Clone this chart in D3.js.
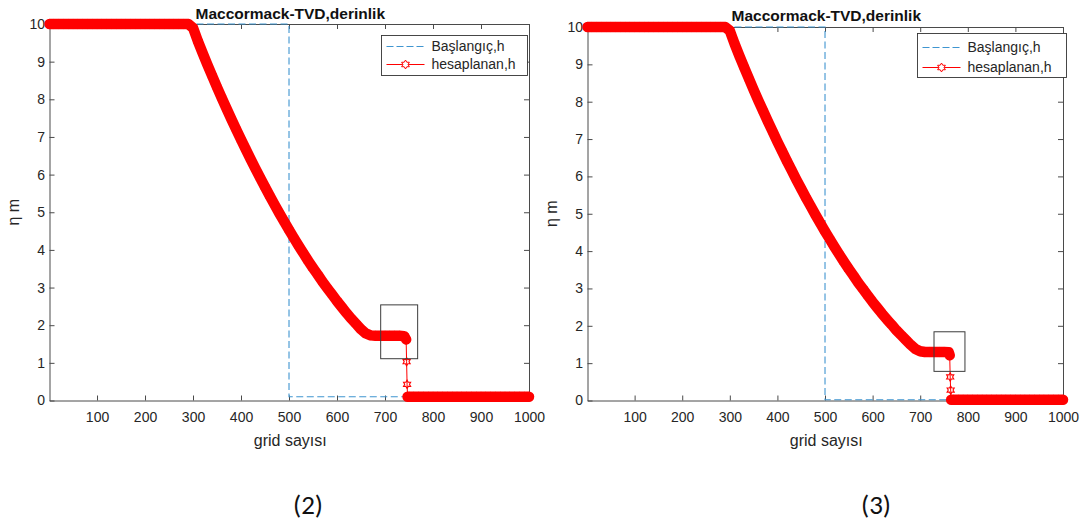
<!DOCTYPE html>
<html>
<head>
<meta charset="utf-8">
<script src="https://cdn.jsdelivr.net/npm/d3@7"></script>
<style>
  html, body { margin: 0; padding: 0; background: #fff; }
  svg { display: block; font-family: "Liberation Sans", Arial, sans-serif; }
</style>
</head>
<body>
<svg id="fig" width="1088" height="522"></svg>
<script>
// ---- Panel (2): computed depth along the grid ----
const gridX2 = [1,10,20,30,40,50,60,70,80,90,100,110,120,130,140,150,160,170,180,190,
  200,210,220,230,240,250,260,270,280,290,300,310,320,330,340,350,360,370,380,390,
  400,410,420,430,440,450,460,470,480,490,500,510,520,530,540,550,560,570,580,590,
  600,610,620,630,640,650,660,670,680,690,700,710,720,730,740,744,745,746,747,
  750,760,770,780,790,800,810,820,830,840,850,860,870,880,890,900,910,920,930,940,
  950,960,970,980,990,1000];
const depth2 = [10,10,10,10,10,10,10,10,10,10,10,10,10,10,10,10,10,10,10,10,
  10,10,10,10,10,10,10,10,10,10,9.90,9.55,9.23,8.92,8.62,8.32,8.03,7.75,7.47,7.20,
  6.93,6.67,6.41,6.16,5.91,5.67,5.43,5.20,4.97,4.75,4.53,4.32,4.11,3.91,3.71,3.52,3.34,3.15,2.98,2.81,
  2.64,2.48,2.32,2.17,2.03,1.89,1.78,1.73,1.72,1.72,1.72,1.72,1.72,1.72,1.71,1.62,1.03,0.43,0.10,
  0.10,0.10,0.10,0.10,0.10,0.10,0.10,0.10,0.10,0.10,0.10,0.10,0.10,0.10,0.10,0.10,0.10,0.10,0.10,0.10,
  0.10,0.10,0.10,0.10,0.10,0.10];
// initial (dam-break) profile
const initX2 = [1, 500, 500, 1000];
const initH2 = [10, 10, 0.10, 0.10];
// highlighted region: [x0, x1, h0, h1]
const boxRegion2 = [691, 768, 1.11, 2.54];

// ---- Panel (3): computed depth along the grid ----
const gridX3 = [1,10,20,30,40,50,60,70,80,90,100,110,120,130,140,150,160,170,180,190,
  200,210,220,230,240,250,260,270,280,290,300,310,320,330,340,350,360,370,380,390,
  400,410,420,430,440,450,460,470,480,490,500,510,520,530,540,550,560,570,580,590,
  600,610,620,630,640,650,660,670,680,690,700,710,720,730,740,750,760,762,763,764,765,
  770,780,790,800,810,820,830,840,850,860,870,880,890,900,910,920,930,940,
  950,960,970,980,990,1000];
const depth3 = [10,10,10,10,10,10,10,10,10,10,10,10,10,10,10,10,10,10,10,10,
  10,10,10,10,10,10,10,10,10,10,9.90,9.55,9.23,8.92,8.62,8.32,8.03,7.75,7.47,7.20,
  6.93,6.67,6.41,6.16,5.91,5.67,5.43,5.20,4.97,4.75,4.53,4.32,4.11,3.91,3.71,3.52,3.34,3.15,2.98,2.81,
  2.64,2.48,2.32,2.17,2.03,1.88,1.75,1.62,1.49,1.38,1.32,1.30,1.30,1.30,1.30,1.30,1.29,1.21,0.63,0.28,0.02,
  0.02,0.02,0.02,0.02,0.02,0.02,0.02,0.02,0.02,0.02,0.02,0.02,0.02,0.02,0.02,0.02,0.02,0.02,
  0.02,0.02,0.02,0.02,0.02,0.02];
const initX3 = [1, 500, 500, 1000];
const initH3 = [10, 10, 0.02, 0.02];
const boxRegion3 = [729, 794, 0.78, 1.84];

// ---- Shared labels and ticks ----
const xTickValues = [100, 200, 300, 400, 500, 600, 700, 800, 900, 1000];
const yTickValues = [0, 1, 2, 3, 4, 5, 6, 7, 8, 9, 10];
const xDomain = [1, 1000];
const yDomain = [0, 10];
const chartTitle = "Maccormack-TVD,derinlik";
const xAxisTitle = "grid sayısı";
const yAxisTitle = "η m";
const legendLabels = ["Başlangıç,h", "hesaplanan,h"];
const captions = ["(2)", "(3)"];

// ---- Layout of the two panels ----
const panels = [
  { gx: gridX2, gh: depth2, ix: initX2, ih: initH2, box: boxRegion2, caption: captions[0],
    left: 49.5, right: 529, top: 24, bottom: 400.5, titleY: 18.5, yLabX: 19,
    legend: { x: 381.5, y: 35.5, w: 146, h: 40, r1: 46.5, r2: 64.5 }, capX: 308 },
  { gx: gridX3, gh: depth3, ix: initX3, ih: initH3, box: boxRegion3, caption: captions[1],
    left: 587.5, right: 1063, top: 27, bottom: 400.5, titleY: 21, yLabX: 557,
    legend: { x: 917.5, y: 33.5, w: 149, h: 44, r1: 47.5, r2: 67.5 }, capX: 876 }
];

const RED = "#ff0000";
const BLUE = "#3f95d0";
const AXIS = "#4a4a4a";
const TEXT = "#262626";
const STEEP = 0.15;   // depth change per grid cell above which samples are not merged into a band

// six-pointed star marker
const hexagram = {
  draw(ctx, size) {
    const r = Math.sqrt(size);
    const ri = r / Math.sqrt(3);
    for (let k = 0; k < 12; k++) {
      const a = -Math.PI / 2 + k * Math.PI / 6;
      const rr = k % 2 ? ri : r;
      const px = rr * Math.cos(a), py = rr * Math.sin(a);
      if (k === 0) ctx.moveTo(px, py); else ctx.lineTo(px, py);
    }
    ctx.closePath();
  }
};

const svg = d3.select("#fig");

panels.forEach(p => {
  const x = d3.scaleLinear().domain(xDomain).range([p.left, p.right]);
  const y = d3.scaleLinear().domain(yDomain).range([p.bottom, p.top]);
  const g = svg.append("g");

  // axes box with inward ticks on all four sides
  const styleAxis = sel => {
    sel.selectAll("path.domain").attr("stroke", AXIS).attr("stroke-width", 1);
    sel.selectAll(".tick line").attr("stroke", AXIS).attr("stroke-width", 1);
    sel.selectAll("text").attr("fill", TEXT).style("font-size", "14px")
      .style("font-family", "'Liberation Sans', Arial, sans-serif");
  };
  const fmt = d3.format("d");
  g.append("g").attr("transform", `translate(0,${p.bottom})`)
    .call(d3.axisBottom(x).tickValues(xTickValues).tickFormat(fmt).tickSize(-5).tickSizeOuter(0).tickPadding(11.5))
    .call(styleAxis);
  g.append("g").attr("transform", `translate(0,${p.top})`)
    .call(d3.axisTop(x).tickValues(xTickValues).tickSize(-5).tickSizeOuter(0).tickFormat(""))
    .call(styleAxis);
  g.append("g").attr("transform", `translate(${p.left},0)`)
    .call(d3.axisLeft(y).tickValues(yTickValues).tickFormat(fmt).tickSize(-5).tickSizeOuter(0).tickPadding(4.5))
    .call(styleAxis);
  g.append("g").attr("transform", `translate(${p.right},0)`)
    .call(d3.axisRight(y).tickValues(yTickValues).tickSize(-5).tickSizeOuter(0).tickFormat(""))
    .call(styleAxis);

  // title and axis titles
  g.append("text").attr("x", (p.left + p.right) / 2 + 1).attr("y", p.titleY)
    .attr("text-anchor", "middle").attr("font-weight", "bold").attr("font-size", 15.5)
    .attr("fill", "#111").text(chartTitle);
  g.append("text").attr("x", (p.left + p.right) / 2 + 1).attr("y", 446)
    .attr("text-anchor", "middle").attr("font-size", 16).attr("fill", TEXT).text(xAxisTitle);
  g.append("text").attr("transform", `translate(${p.yLabX},${(p.top + p.bottom) / 2}) rotate(-90)`)
    .attr("text-anchor", "middle").attr("font-size", 16).attr("fill", TEXT).text(yAxisTitle);

  // initial condition (dashed)
  const initPts = p.ix.map((v, i) => ({ x: v, h: p.ih[i] }));
  const line = d3.line().x(d => x(d.x)).y(d => y(d.h));
  g.append("path").datum(initPts).attr("d", line)
    .attr("fill", "none").attr("stroke", BLUE).attr("stroke-width", 1.1)
    .attr("stroke-dasharray", "7,3.5");

  // computed depth: thin connecting line
  const pts = p.gx.map((v, i) => ({ x: v, h: p.gh[i] }));
  g.append("path").datum(pts).attr("d", line)
    .attr("fill", "none").attr("stroke", RED).attr("stroke-width", 1);

  // dense runs of overlapping stars form a solid band; split it at steep jumps
  const runs = [];
  let cur = [pts[0]];
  for (let i = 1; i < pts.length; i++) {
    const a = pts[i - 1], b = pts[i];
    if (Math.abs(b.h - a.h) / (b.x - a.x) > STEEP) { runs.push(cur); cur = [b]; }
    else cur.push(b);
  }
  runs.push(cur);
  g.append("g").selectAll("path").data(runs.filter(r => r.length > 1)).join("path")
    .attr("d", line).attr("fill", "none").attr("stroke", RED)
    .attr("stroke-width", 10.5).attr("stroke-linejoin", "round").attr("stroke-linecap", "round");

  // a star at every grid sample
  g.append("g").selectAll("path").data(pts).join("path")
    .attr("d", d3.symbol(hexagram, 17))
    .attr("transform", d => `translate(${x(d.x)},${y(d.h)})`)
    .attr("fill", "none").attr("stroke", RED).attr("stroke-width", 1.1);

  // highlighted region
  g.append("rect")
    .attr("x", x(p.box[0])).attr("y", y(p.box[3]))
    .attr("width", x(p.box[1]) - x(p.box[0])).attr("height", y(p.box[2]) - y(p.box[3]))
    .attr("fill", "none").attr("stroke", "#3c3c3c").attr("stroke-width", 1);

  // legend
  const L = p.legend;
  const lg = g.append("g");
  lg.append("rect").attr("x", L.x).attr("y", L.y).attr("width", L.w).attr("height", L.h)
    .attr("fill", "#fff").attr("stroke", "#333").attr("stroke-width", 0.9);
  lg.append("line").attr("x1", L.x + 5).attr("x2", L.x + 43).attr("y1", L.r1).attr("y2", L.r1)
    .attr("stroke", BLUE).attr("stroke-width", 1.1).attr("stroke-dasharray", "7,3");
  lg.append("line").attr("x1", L.x + 5).attr("x2", L.x + 43).attr("y1", L.r2).attr("y2", L.r2)
    .attr("stroke", RED).attr("stroke-width", 1);
  lg.append("path").attr("d", d3.symbol(hexagram, 20))
    .attr("transform", `translate(${L.x + 24},${L.r2})`)
    .attr("fill", "#fff").attr("stroke", RED).attr("stroke-width", 1);
  [L.r1, L.r2].forEach((ry, i) => {
    lg.append("text").attr("x", L.x + 50).attr("y", ry).attr("dy", "0.35em")
      .attr("font-size", 14).attr("fill", TEXT).text(legendLabels[i]);
  });

  // panel caption
  svg.append("text").attr("x", p.capX).attr("y", 514).attr("text-anchor", "middle")
    .attr("font-size", 27).attr("fill", "#111")
    .style("font-family", "Carlito, Lato, 'Open Sans', sans-serif").text(p.caption);
});
</script>
</body>
</html>
